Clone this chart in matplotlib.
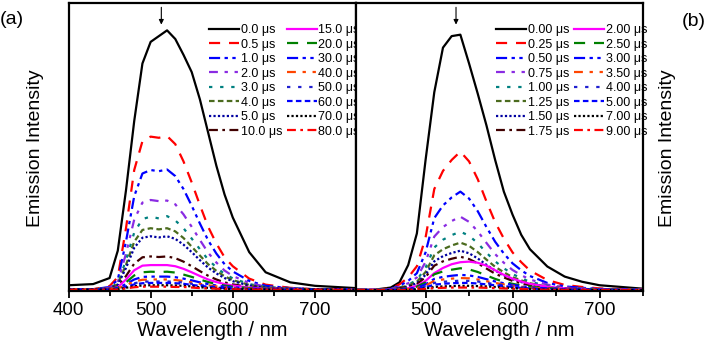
import matplotlib
matplotlib.use("Agg")
import matplotlib.pyplot as plt
from matplotlib.ticker import MultipleLocator

plt.rcParams['font.family'] = ['Liberation Sans', 'DejaVu Sans']

# ---------------- data: panel (a) ----------------
wl_a = [400, 430, 450, 460, 470, 480, 490, 500, 510, 520, 530, 540, 550,
        560, 570, 580, 590, 600, 620, 640, 670, 700, 750]
labels_a = ["0.0 μs", "0.5 μs", "1.0 μs", "2.0 μs", "3.0 μs", "4.0 μs",
            "5.0 μs", "10.0 μs", "15.0 μs", "20.0 μs", "30.0 μs", "40.0 μs",
            "50.0 μs", "60.0 μs", "70.0 μs", "80.0 μs"]
a_00 = [.020, .024, .045, .14, .35, .59, .79, .865, .885, .905, .875, .82, .76,
        .665, .55, .435, .335, .255, .135, .065, .03, .018, .01]
a_05 = [.006, .006, .017, .048, .218, .42, .52, .536, .532, .538, .51, .45, .377,
        .298, .223, .165, .117, .086, .043, .022, .011, .006, .005]
a_10 = [.006, .006, .014, .039, .172, .329, .408, .42, .416, .422, .399, .354, .296,
        .234, .176, .13, .093, .068, .035, .018, .01, .006, .005]
a_20 = [.006, .006, .012, .031, .13, .248, .307, .316, .312, .314, .301, .266, .223,
        .177, .133, .099, .071, .052, .028, .015, .009, .006, .005]
a_30 = [.006, .006, .011, .026, .107, .203, .250, .258, .252, .26, .245, .218, .182,
        .145, .109, .082, .059, .044, .024, .014, .009, .006, .005]
a_40 = [.006, .006, .01, .023, .091, .171, .212, .218, .214, .218, .207, .184, .154,
        .123, .093, .070, .051, .038, .021, .012, .008, .006, .005]
a_50 = [.006, .006, .01, .021, .08, .15, .185, .19, .186, .19, .181, .161, .135,
        .107, .081, .061, .045, .034, .019, .012, .008, .006, .005]
a_100 = [.006, .006, .008, .015, .052, .095, .117, .12, .118, .12, .114, .102, .086,
         .069, .053, .040, .030, .023, .014, .009, .007, .006, .005]
a_150 = [.006, .006, .008, .013, .04, .072, .088, .09, .09, .09, .086, .077, .065,
         .052, .040, .031, .024, .019, .012, .008, .007, .006, .005]
a_200 = [.006, .006, .007, .011, .03, .054, .065, .067, .066, .067, .064, .057, .049,
         .04, .031, .024, .019, .015, .010, .008, .007, .006, .005]
a_300 = [.006, .006, .007, .010, .024, .04, .049, .05, .05, .05, .048, .043, .037,
         .030, .024, .019, .015, .013, .009, .007, .006, .006, .005]
a_400 = [.006, .006, .007, .009, .02, .033, .039, .04, .04, .04, .038, .035, .030,
         .025, .020, .016, .013, .011, .008, .007, .006, .006, .005]
a_500 = [.005, .005, .006, .008, .016, .027, .032, .033, .033, .033, .032, .029, .025,
         .021, .017, .014, .011, .009, .007, .006, .005, .005, .005]
a_600 = [.005, .005, .006, .007, .014, .023, .027, .028, .028, .028, .027, .025, .021,
         .018, .015, .012, .010, .008, .006, .006, .005, .005, .005]
a_700 = [.005, .005, .005, .006, .011, .017, .019, .02, .02, .02, .019, .018, .016,
         .013, .011, .009, .008, .007, .006, .005, .005, .005, .005]
a_800 = [.004, .004, .005, .005, .009, .013, .015, .015, .015, .015, .014, .014, .012,
         .010, .009, .008, .007, .006, .005, .005, .004, .004, .004]
series_a = [a_00, a_05, a_10, a_20, a_30, a_40, a_50, a_100,
            a_150, a_200, a_300, a_400, a_500, a_600, a_700, a_800]

# ---------------- data: panel (b) ----------------
wl_b = [420, 440, 460, 470, 480, 490, 500, 510, 520, 530, 540, 550, 560, 570,
        580, 590, 600, 610, 620, 640, 660, 680, 700, 750]
labels_b = ["0.00 μs", "0.25 μs", "0.50 μs", "0.75 μs", "1.00 μs", "1.25 μs",
            "1.50 μs", "1.75 μs", "2.00 μs", "2.50 μs", "3.00 μs", "3.50 μs",
            "4.00 μs", "5.00 μs", "7.00 μs", "9.00 μs"]
b_000 = [.003, .004, .012, .03, .09, .2, .455, .69, .845, .885, .89, .79, .685, .575,
         .455, .345, .265, .195, .145, .085, .05, .032, .02, .008]
b_025 = [.004, .004, .009, .023, .047, .086, .186, .354, .417, .455, .484, .45, .388, .311,
         .239, .182, .134, .1, .071, .038, .021, .014, .009, .004]
b_050 = [.004, .004, .007, .018, .035, .062, .134, .253, .297, .325, .345, .321, .277, .222,
         .171, .13, .096, .072, .052, .028, .016, .011, .007, .004]
b_075 = [.004, .004, .007, .014, .027, .047, .101, .189, .222, .243, .258, .24, .207, .167,
         .128, .098, .073, .055, .04, .022, .013, .009, .007, .004]
b_100 = [.004, .004, .006, .012, .022, .038, .081, .151, .178, .194, .206, .192, .166, .133,
         .103, .079, .059, .044, .032, .018, .011, .008, .006, .004]
b_125 = [.004, .004, .006, .011, .019, .032, .066, .124, .145, .158, .168, .157, .135, .109,
         .084, .065, .048, .037, .027, .015, .01, .007, .006, .004]
b_150 = [.004, .004, .005, .009, .016, .027, .056, .103, .121, .132, .14, .131, .113, .091,
         .071, .054, .041, .031, .023, .014, .009, .007, .005, .004]
b_175 = [.004, .004, .005, .009, .014, .024, .048, .088, .103, .112, .119, .111, .096, .078,
         .060, .047, .035, .027, .020, .012, .008, .006, .005, .004]
b_200 = [.004, .004, .005, .006, .01, .018, .035, .062, .08, .093, .1, .102, .098, .088,
         .072, .056, .043, .033, .025, .015, .009, .006, .005, .004]
b_250 = [.004, .004, .005, .006, .01, .015, .03, .058, .068, .074, .079, .075, .066, .054,
         .042, .032, .025, .019, .015, .010, .007, .006, .005, .004]
b_300 = [.004, .004, .004, .006, .008, .012, .023, .042, .049, .053, .056, .054, .049, .041,
         .033, .027, .021, .017, .013, .009, .007, .005, .005, .004]
b_350 = [.004, .004, .004, .005, .007, .010, .019, .035, .040, .043, .045, .044, .040, .034,
         .028, .023, .018, .015, .012, .008, .006, .005, .004, .004]
b_400 = [.003, .003, .004, .005, .006, .009, .016, .028, .032, .034, .036, .035, .033, .028,
         .024, .020, .016, .013, .010, .007, .005, .005, .004, .003]
b_500 = [.003, .003, .004, .004, .005, .007, .013, .022, .025, .027, .028, .028, .026, .023,
         .02, .017, .014, .011, .009, .006, .005, .004, .004, .003]
b_700 = [.003, .003, .003, .004, .004, .006, .009, .014, .016, .017, .018, .018, .017, .016,
         .014, .012, .010, .008, .007, .005, .004, .004, .003, .003]
b_900 = [.003, .003, .003, .003, .004, .005, .007, .01, .011, .012, .012, .012, .012, .011,
         .01, .009, .008, .007, .006, .004, .004, .003, .003, .003]
series_b = [b_000, b_025, b_050, b_075, b_100, b_125, b_150, b_175,
            b_200, b_250, b_300, b_350, b_400, b_500, b_700, b_900]

# ---------------- styles ----------------
colors = ['#000000', '#ff0000', '#0000ff', '#8a2be2', '#008080', '#4b6b1e',
          '#0000a0', '#400000', '#ff00ff', '#008000', '#0000ff', '#ff4500',
          '#2020d0', '#0000ff', '#000000', '#ff0000']
dash_patterns = ['solid', (0, (5, 4)), (0, (5, 2, 1.5, 2, 1.5, 2)),
                 (0, (4, 3, 1.5, 3, 1.5, 3)), (0, (1.5, 3.5)), (0, (2.5, 1.5)),
                 (0, (1, 1)), (0, (4, 2, 1.2, 2))]
styles = dash_patterns * 2

fig = plt.figure(figsize=(7.08, 3.45), dpi=100)
ax1 = fig.add_axes([68.5 / 708, 54 / 345, 287.5 / 708, 288 / 345])
ax2 = fig.add_axes([356 / 708, 54 / 345, 287 / 708, 288 / 345])


def draw(ax, wl, series, labels, xlim, majors, peak):
    for y, lab, c, ls in zip(series, labels, colors, styles):
        ax.plot(wl, y, color=c, linestyle=ls, lw=1.6, label=lab)
    ax.set_xlim(*xlim)
    ax.set_ylim(0, 1.0)
    ax.set_xticks(majors)
    ax.xaxis.set_minor_locator(MultipleLocator(50))
    ax.set_yticks([])
    ax.tick_params(axis='x', which='major', direction='out', length=5, width=1.3,
                   labelsize=13.5, pad=3, top=False)
    ax.tick_params(axis='x', which='minor', direction='out', length=3.5, width=1.3,
                   top=False)
    for s in ax.spines.values():
        s.set_linewidth(1.6)
    ax.set_xlabel('Wavelength / nm', fontsize=14.5, labelpad=1)
    ax.annotate('', xy=(peak, 0.925), xytext=(peak, 0.985),
                arrowprops=dict(arrowstyle='-|>', color='black', lw=0.8,
                                mutation_scale=7, shrinkA=0, shrinkB=0))
    leg = ax.legend(ncol=2, loc='upper left', bbox_to_anchor=(0.488, 0.926),
                    frameon=False, fontsize=9, handlelength=2.4,
                    handletextpad=0.15, columnspacing=0.35, labelspacing=0.2,
                    borderpad=0, borderaxespad=0)
    return leg


draw(ax1, wl_a, series_a, labels_a, (400, 750), [400, 500, 600, 700], 513)
draw(ax2, wl_b, series_b, labels_b, (420, 750), [500, 600, 700], 535)

fig.text(36 / 708, 1 - 148 / 345, 'Emission Intensity', rotation=90,
         ha='center', va='center', fontsize=14)
fig.text(667 / 708, 1 - 148 / 345, 'Emission Intensity', rotation=90,
         ha='center', va='center', fontsize=14)
fig.text(12 / 708, 1 - 20 / 345, '(a)', ha='center', va='center', fontsize=14)
fig.text(694 / 708, 1 - 22 / 345, '(b)', ha='center', va='center', fontsize=14)

fig.savefig('out.png', dpi=100)
